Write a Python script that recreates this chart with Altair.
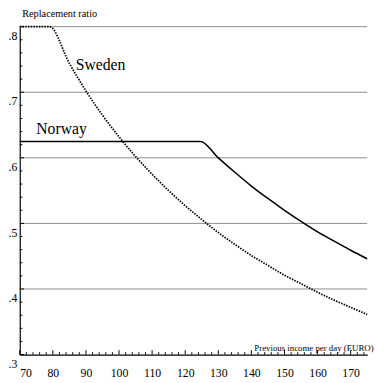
import altair as alt
import pandas as pd

# Data
sweden_income = [70, 79, 85, 90, 95, 100, 105, 110, 115, 120, 125, 130, 135, 140, 145, 150, 155, 160, 165, 170, 175]
sweden_ratio = [0.800, 0.800, 0.744, 0.702, 0.665, 0.632, 0.602, 0.575, 0.550, 0.527, 0.506, 0.486,
                0.468, 0.451, 0.436, 0.421, 0.408, 0.395, 0.383, 0.372, 0.361]
norway_income = [70, 124.6, 130, 135, 140, 145, 150, 155, 160, 165, 170, 175]
norway_ratio = [0.625, 0.625, 0.600, 0.578, 0.557, 0.538, 0.520, 0.503, 0.487, 0.473, 0.459, 0.446]

label_names = ["Sweden", "Norway"]
label_income = [86.9, 75.0]
label_ratio = [0.734, 0.637]

grid_values = [0.4, 0.5, 0.6, 0.7, 0.8]
x_major = [70, 80, 90, 100, 110, 120, 130, 140, 150, 160, 170]
x_minor = [v for v in range(72, 176, 2) if v % 10 != 0]
y_major = [0.3, 0.4, 0.5, 0.6, 0.7, 0.8]
y_minor = [round(0.30 + 0.02 * i, 2) for i in range(1, 25) if i % 5 != 0]

sw = pd.DataFrame({"income": sweden_income, "ratio": sweden_ratio})
no = pd.DataFrame({"income": norway_income, "ratio": norway_ratio})
lab = pd.DataFrame({"name": label_names, "income": label_income, "ratio": label_ratio})
grid = pd.DataFrame({"ratio": grid_values})
xt = pd.DataFrame({"income": x_major + x_minor,
                   "major": [1] * len(x_major) + [0] * len(x_minor)})
yt = pd.DataFrame({"ratio": y_major + y_minor,
                   "major": [1] * len(y_major) + [0] * len(y_minor)})

FONT = "Liberation Serif"

xscale = alt.Scale(domain=[70, 175], nice=False, zero=False)
yscale = alt.Scale(domain=[0.3, 0.8], nice=False, zero=False)

AX = alt.Axis(
    values=x_major,
    title="Previous income per day (EURO)",
    titleAnchor="end", titleAlign="right", titleBaseline="bottom",
    titleX=361, titleY=-2, titleFontSize=9,
    labelPadding=13,
    labelFlush=True, labelOverlap=False,
    ticks=False, grid=False,
)
AY = alt.Axis(
    values=y_major,
    title="Replacement ratio",
    titleAngle=0, titleAnchor="start", titleAlign="left", titleBaseline="alphabetic",
    titleX=2, titleY=-10, titleFontSize=10.5,
    labelExpr="replace(format(datum.value, '.1f'), '0.', '.')",
    labelPadding=3, labelOffset=9, labelOverlap=False, labelFlush=False,
    ticks=False, grid=False,
)

def X(field):
    return alt.X(field, type="quantitative", scale=xscale, axis=AX)

def Y(field):
    return alt.Y(field, type="quantitative", scale=yscale, axis=AY)

gridlines = alt.Chart(grid).mark_rule(color="#8c8c8c", strokeWidth=1).encode(
    y=Y("ratio"))

xticks = alt.Chart(xt).transform_calculate(
    base="0.3", tip="datum.major == 1 ? 0.3066 : 0.3036"
).mark_rule(color="black", strokeWidth=1).encode(
    x=X("income"), y=Y("base"), y2=alt.Y2("tip:Q"),
)

yticks = alt.Chart(yt).transform_calculate(
    base="70", tip="datum.major == 1 ? 71.3 : 70.8"
).mark_rule(color="black", strokeWidth=1).encode(
    y=Y("ratio"), x=X("base"), x2=alt.X2("tip:Q"),
)

sweden = alt.Chart(sw).mark_line(color="black", strokeWidth=1.8, strokeDash=[1.5, 1.3],
                                  interpolate="monotone").encode(x=X("income"), y=Y("ratio"))
norway = alt.Chart(no).mark_line(color="black", strokeWidth=1.6,
                                  interpolate="monotone").encode(x=X("income"), y=Y("ratio"))
labels = alt.Chart(lab).mark_text(font=FONT, fontSize=16, align="left",
                                  baseline="alphabetic", color="black").encode(
    x=X("income"), y=Y("ratio"), text="name:N")

chart = alt.layer(gridlines, xticks, yticks, sweden, norway, labels).properties(
    width=355, height=335,
    autosize=alt.AutoSizeParams(type="none"),
    padding={"left": 12, "top": 15, "right": 10, "bottom": 25},
).configure(
    background="white", font=FONT
).configure_view(stroke=None).configure_axis(
    labelFont=FONT, labelFontSize=12, labelColor="black",
    titleFont=FONT, titleFontWeight="normal", titleColor="black",
    domainColor="black", domainWidth=1.2,
)

chart.save("out.html", embed_options={"renderer": "svg", "actions": False})
